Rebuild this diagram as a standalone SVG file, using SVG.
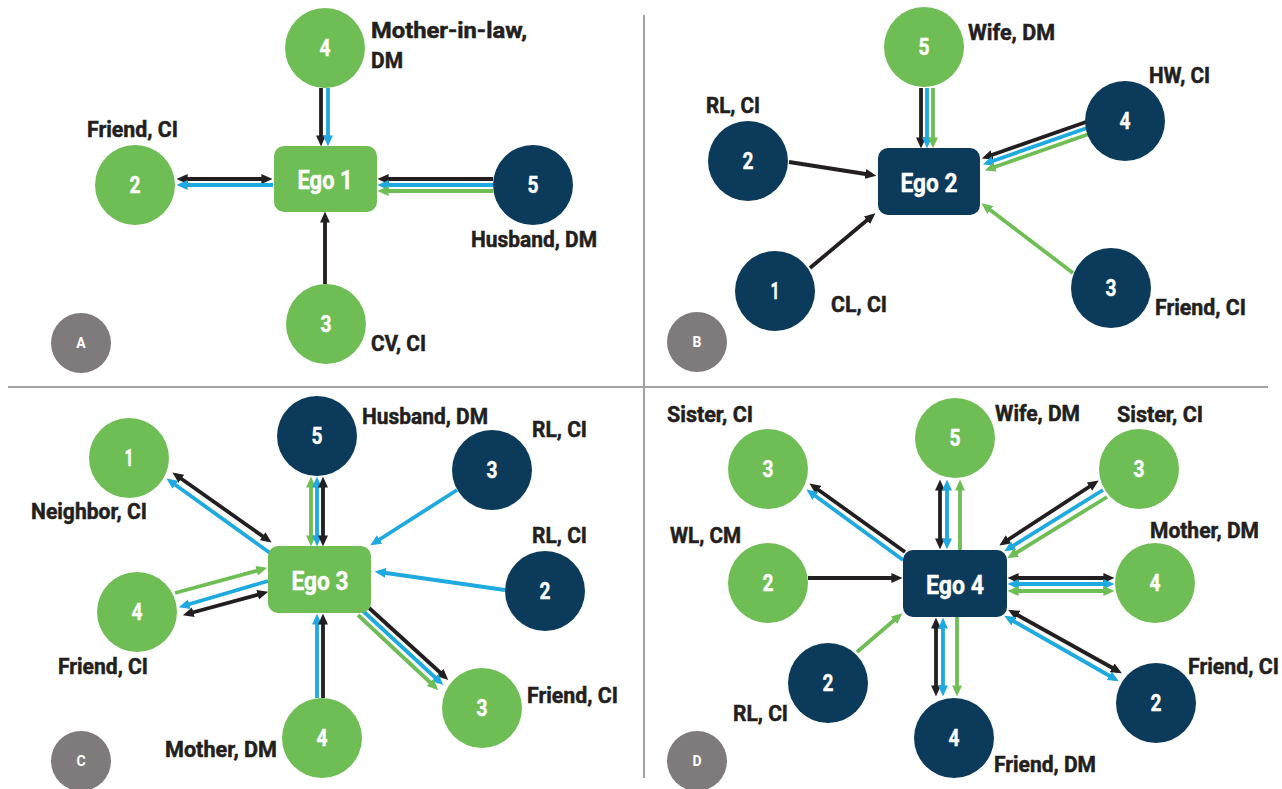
<svg xmlns="http://www.w3.org/2000/svg" width="1282" height="789" viewBox="0 0 1282 789">
<style>
.g{fill:#6fbe55}.n{fill:#0b3a5a}.p{fill:#7f7b7c}
.num{fill:#fff;stroke:#fff;stroke-width:0.4;font-family:Roboto,"Liberation Sans",sans-serif;font-weight:700;font-size:23px;text-anchor:middle}
.ego{fill:#fff;stroke:#fff;stroke-width:0.4;font-family:Roboto,"Liberation Sans",sans-serif;font-weight:700;font-size:26px;text-anchor:middle}
.lab{fill:#231f20;stroke:#231f20;stroke-width:0.5;font-family:Roboto,"Liberation Sans",sans-serif;font-weight:700;font-size:22px}
.pl{fill:#fff;font-family:Roboto,"Liberation Sans",sans-serif;font-weight:700;font-size:14px;text-anchor:middle}
.k{stroke:#231f20;stroke-width:3.8;fill:none}
.b{stroke:#1ea9e1;stroke-width:3.8;fill:none}
.e{stroke:#6fbe55;stroke-width:3.8;fill:none}
.div{stroke:#a3a3a3;stroke-width:2}
</style>
<defs>
<marker id="mk" viewBox="0 0 10 10" refX="6" refY="5" markerWidth="11" markerHeight="11" markerUnits="userSpaceOnUse" orient="auto-start-reverse"><path d="M0,0.5 L10,5 L0,9.5z" fill="#231f20"/></marker>
<marker id="mb" viewBox="0 0 10 10" refX="6" refY="5" markerWidth="11" markerHeight="11" markerUnits="userSpaceOnUse" orient="auto-start-reverse"><path d="M0,0.5 L10,5 L0,9.5z" fill="#1ea9e1"/></marker>
<marker id="me" viewBox="0 0 10 10" refX="6" refY="5" markerWidth="11" markerHeight="11" markerUnits="userSpaceOnUse" orient="auto-start-reverse"><path d="M0,0.5 L10,5 L0,9.5z" fill="#6fbe55"/></marker>
</defs>
<rect width="1282" height="789" fill="#fff"/>
<g id="dividers">
<line class="div" x1="644" y1="15" x2="644" y2="778"/>
<line class="div" x1="8" y1="387" x2="1268" y2="387"/>
</g>
<g id="connectors">
<path class="k" d="M321,88 L321,142" marker-end="url(#mk)"/>
<path class="b" d="M328,88 L328,142" marker-end="url(#mb)"/>
<path class="k" d="M181,179 L268,179" marker-start="url(#mk)" marker-end="url(#mk)"/>
<path class="b" d="M273,185 L181,185" marker-end="url(#mb)"/>
<path class="k" d="M493,179 L382,179" marker-end="url(#mk)"/>
<path class="b" d="M493,185 L382,185" marker-end="url(#mb)"/>
<path class="e" d="M493,191 L382,191" marker-end="url(#me)"/>
<path class="k" d="M325,284 L325,216" marker-end="url(#mk)"/>
<path class="k" d="M921,88 L921,144" marker-end="url(#mk)"/>
<path class="b" d="M927,88 L927,144" marker-end="url(#mb)"/>
<path class="e" d="M933,88 L933,144" marker-end="url(#me)"/>
<path class="k" d="M789,162 L872,175" marker-end="url(#mk)"/>
<path class="k" d="M810,268 L872,216" marker-end="url(#mk)"/>
<path class="k" d="M1086,122 L986,157" marker-end="url(#mk)"/>
<path class="b" d="M1087,128 L987,163" marker-end="url(#mb)"/>
<path class="e" d="M1089,134 L989,169" marker-end="url(#me)"/>
<path class="e" d="M1073,273 L985,206" marker-end="url(#me)"/>
<path class="e" d="M311,481 L311,542" marker-start="url(#me)" marker-end="url(#me)"/>
<path class="b" d="M317,481 L317,542" marker-start="url(#mb)" marker-end="url(#mb)"/>
<path class="k" d="M323,481 L323,542" marker-start="url(#mk)" marker-end="url(#mk)"/>
<path class="b" d="M457,490 L374,543" marker-end="url(#mb)"/>
<path class="b" d="M505,590 L379,572" marker-end="url(#mb)"/>
<path class="k" d="M368,607 L445,677" marker-end="url(#mk)"/>
<path class="b" d="M363,611 L440,682" marker-end="url(#mb)"/>
<path class="e" d="M358,615 L435,687" marker-end="url(#me)"/>
<path class="b" d="M317,698 L317,618" marker-end="url(#mb)"/>
<path class="k" d="M323,698 L323,618" marker-end="url(#mk)"/>
<path class="k" d="M176,475 L268,540" marker-start="url(#mk)" marker-end="url(#mk)"/>
<path class="b" d="M270,553 L170,481" marker-end="url(#mb)"/>
<path class="e" d="M175,593 L263,569" marker-end="url(#me)"/>
<path class="b" d="M268,581 L183,606" marker-end="url(#mb)"/>
<path class="k" d="M187,614 L264,593" marker-start="url(#mk)" marker-end="url(#mk)"/>
<path class="k" d="M940,484 L940,545" marker-start="url(#mk)" marker-end="url(#mk)"/>
<path class="b" d="M947,484 L947,545" marker-start="url(#mb)" marker-end="url(#mb)"/>
<path class="e" d="M960,550 L960,484" marker-end="url(#me)"/>
<path class="k" d="M905,552 L813,486" marker-end="url(#mk)"/>
<path class="b" d="M903,560 L810,492" marker-end="url(#mb)"/>
<path class="k" d="M808,578 L898,578" marker-end="url(#mk)"/>
<path class="e" d="M857,652 L899,616" marker-end="url(#me)"/>
<path class="k" d="M936,622 L936,692" marker-start="url(#mk)" marker-end="url(#mk)"/>
<path class="b" d="M943,622 L943,692" marker-start="url(#mb)" marker-end="url(#mb)"/>
<path class="e" d="M957,617 L957,692" marker-end="url(#me)"/>
<path class="k" d="M1012,612 L1118,671" marker-start="url(#mk)" marker-end="url(#mk)"/>
<path class="b" d="M1008,618 L1115,679" marker-start="url(#mb)" marker-end="url(#mb)"/>
<path class="k" d="M1012,578 L1110,578" marker-start="url(#mk)" marker-end="url(#mk)"/>
<path class="b" d="M1012,584 L1110,584" marker-start="url(#mb)" marker-end="url(#mb)"/>
<path class="e" d="M1012,591 L1110,591" marker-start="url(#me)" marker-end="url(#me)"/>
<path class="k" d="M1003,543 L1095,483" marker-start="url(#mk)" marker-end="url(#mk)"/>
<path class="b" d="M1103,490 L1008,549" marker-end="url(#mb)"/>
<path class="e" d="M1107,497 L1011,556" marker-end="url(#me)"/>
</g>
<g id="ego1"><rect class="g" x="274" y="146" width="103" height="66" rx="10"/><text class="ego" x="325" y="189" textLength="55" lengthAdjust="spacingAndGlyphs">Ego 1</text></g>
<g id="a4"><circle class="g" cx="325" cy="48" r="40"/><text class="num" x="325" y="56" textLength="11" lengthAdjust="spacingAndGlyphs">4</text><text class="lab" x="371" y="38" textLength="156" lengthAdjust="spacingAndGlyphs">Mother-in-law,</text><text class="lab" x="371" y="68" textLength="32" lengthAdjust="spacingAndGlyphs">DM</text></g>
<g id="a2"><circle class="g" cx="135" cy="185" r="40"/><text class="num" x="135" y="193" textLength="11" lengthAdjust="spacingAndGlyphs">2</text><text class="lab" x="87" y="137" textLength="91" lengthAdjust="spacingAndGlyphs">Friend, CI</text></g>
<g id="a5"><circle class="n" cx="533" cy="185" r="40"/><text class="num" x="533" y="193" textLength="11" lengthAdjust="spacingAndGlyphs">5</text><text class="lab" x="471" y="247" textLength="126" lengthAdjust="spacingAndGlyphs">Husband, DM</text></g>
<g id="a3"><circle class="g" cx="326" cy="324" r="40"/><text class="num" x="326" y="332" textLength="11" lengthAdjust="spacingAndGlyphs">3</text><text class="lab" x="371" y="351" textLength="55" lengthAdjust="spacingAndGlyphs">CV, CI</text></g>
<g id="pA"><circle class="p" cx="81" cy="343" r="30"/><text class="pl" x="81" y="348">A</text></g>
<g id="ego2"><rect class="n" x="878" y="148" width="102" height="67" rx="10"/><text class="ego" x="929" y="192" textLength="57" lengthAdjust="spacingAndGlyphs">Ego 2</text></g>
<g id="b5"><circle class="g" cx="924" cy="47" r="40"/><text class="num" x="924" y="55" textLength="11" lengthAdjust="spacingAndGlyphs">5</text><text class="lab" x="968" y="40" textLength="87" lengthAdjust="spacingAndGlyphs">Wife, DM</text></g>
<g id="b2"><circle class="n" cx="748" cy="161" r="40"/><text class="num" x="748" y="169" textLength="11" lengthAdjust="spacingAndGlyphs">2</text><text class="lab" x="706" y="113" textLength="54" lengthAdjust="spacingAndGlyphs">RL, CI</text></g>
<g id="b4"><circle class="n" cx="1125" cy="121" r="40"/><text class="num" x="1125" y="129" textLength="11" lengthAdjust="spacingAndGlyphs">4</text><text class="lab" x="1149" y="83" textLength="61" lengthAdjust="spacingAndGlyphs">HW, CI</text></g>
<g id="b3"><circle class="n" cx="1111" cy="288" r="40"/><text class="num" x="1111" y="296" textLength="11" lengthAdjust="spacingAndGlyphs">3</text><text class="lab" x="1155" y="315" textLength="91" lengthAdjust="spacingAndGlyphs">Friend, CI</text></g>
<g id="b1"><circle class="n" cx="775" cy="291" r="40"/><text class="num" x="775" y="299" textLength="9" lengthAdjust="spacingAndGlyphs">1</text><text class="lab" x="831" y="312" textLength="56" lengthAdjust="spacingAndGlyphs">CL, CI</text></g>
<g id="pB"><circle class="p" cx="697" cy="342" r="30"/><text class="pl" x="697" y="347">B</text></g>
<g id="ego3"><rect class="g" x="268" y="546" width="103" height="67" rx="10"/><text class="ego" x="320" y="590" textLength="57" lengthAdjust="spacingAndGlyphs">Ego 3</text></g>
<g id="c5"><circle class="n" cx="317" cy="436" r="40"/><text class="num" x="317" y="444" textLength="11" lengthAdjust="spacingAndGlyphs">5</text><text class="lab" x="362" y="424" textLength="126" lengthAdjust="spacingAndGlyphs">Husband, DM</text></g>
<g id="c3r"><circle class="n" cx="492" cy="470" r="40"/><text class="num" x="492" y="478" textLength="11" lengthAdjust="spacingAndGlyphs">3</text><text class="lab" x="532" y="437" textLength="55" lengthAdjust="spacingAndGlyphs">RL, CI</text></g>
<g id="c2"><circle class="n" cx="545" cy="591" r="40"/><text class="num" x="545" y="599" textLength="11" lengthAdjust="spacingAndGlyphs">2</text><text class="lab" x="532" y="543" textLength="55" lengthAdjust="spacingAndGlyphs">RL, CI</text></g>
<g id="c3f"><circle class="g" cx="482" cy="708" r="40"/><text class="num" x="482" y="716" textLength="11" lengthAdjust="spacingAndGlyphs">3</text><text class="lab" x="527" y="703" textLength="91" lengthAdjust="spacingAndGlyphs">Friend, CI</text></g>
<g id="c1"><circle class="g" cx="129" cy="458" r="40"/><text class="num" x="129" y="466" textLength="9" lengthAdjust="spacingAndGlyphs">1</text><text class="lab" x="31" y="519" textLength="116" lengthAdjust="spacingAndGlyphs">Neighbor, CI</text></g>
<g id="c4f"><circle class="g" cx="137" cy="612" r="40"/><text class="num" x="137" y="620" textLength="11" lengthAdjust="spacingAndGlyphs">4</text><text class="lab" x="58" y="674" textLength="90" lengthAdjust="spacingAndGlyphs">Friend, CI</text></g>
<g id="c4m"><circle class="g" cx="322" cy="738" r="40"/><text class="num" x="322" y="746" textLength="11" lengthAdjust="spacingAndGlyphs">4</text><text class="lab" x="165" y="757" textLength="112" lengthAdjust="spacingAndGlyphs">Mother, DM</text></g>
<g id="pC"><circle class="p" cx="81" cy="761" r="30"/><text class="pl" x="81" y="766">C</text></g>
<g id="ego4"><rect class="n" x="903" y="550" width="104" height="67" rx="10"/><text class="ego" x="955" y="594" textLength="58" lengthAdjust="spacingAndGlyphs">Ego 4</text></g>
<g id="d5"><circle class="g" cx="955" cy="438" r="40"/><text class="num" x="955" y="446" textLength="11" lengthAdjust="spacingAndGlyphs">5</text><text class="lab" x="995" y="421" textLength="85" lengthAdjust="spacingAndGlyphs">Wife, DM</text></g>
<g id="d3r"><circle class="g" cx="1139" cy="469" r="40"/><text class="num" x="1139" y="477" textLength="11" lengthAdjust="spacingAndGlyphs">3</text><text class="lab" x="1117" y="422" textLength="86" lengthAdjust="spacingAndGlyphs">Sister, CI</text></g>
<g id="d4m"><circle class="g" cx="1155" cy="583" r="40"/><text class="num" x="1155" y="591" textLength="11" lengthAdjust="spacingAndGlyphs">4</text><text class="lab" x="1150" y="538" textLength="109" lengthAdjust="spacingAndGlyphs">Mother, DM</text></g>
<g id="d3l"><circle class="g" cx="768" cy="469" r="40"/><text class="num" x="768" y="477" textLength="11" lengthAdjust="spacingAndGlyphs">3</text><text class="lab" x="667" y="422" textLength="86" lengthAdjust="spacingAndGlyphs">Sister, CI</text></g>
<g id="d2w"><circle class="g" cx="768" cy="583" r="40"/><text class="num" x="768" y="591" textLength="11" lengthAdjust="spacingAndGlyphs">2</text><text class="lab" x="670" y="543" textLength="71" lengthAdjust="spacingAndGlyphs">WL, CM</text></g>
<g id="d2r"><circle class="n" cx="828" cy="683" r="40"/><text class="num" x="828" y="691" textLength="11" lengthAdjust="spacingAndGlyphs">2</text><text class="lab" x="733" y="721" textLength="55" lengthAdjust="spacingAndGlyphs">RL, CI</text></g>
<g id="d4f"><circle class="n" cx="954" cy="738" r="40"/><text class="num" x="954" y="746" textLength="11" lengthAdjust="spacingAndGlyphs">4</text><text class="lab" x="994" y="772" textLength="102" lengthAdjust="spacingAndGlyphs">Friend, DM</text></g>
<g id="d2f"><circle class="n" cx="1156" cy="703" r="40"/><text class="num" x="1156" y="711" textLength="11" lengthAdjust="spacingAndGlyphs">2</text><text class="lab" x="1188" y="674" textLength="91" lengthAdjust="spacingAndGlyphs">Friend, CI</text></g>
<g id="pD"><circle class="p" cx="697" cy="761" r="30"/><text class="pl" x="697" y="766">D</text></g>
</svg>
